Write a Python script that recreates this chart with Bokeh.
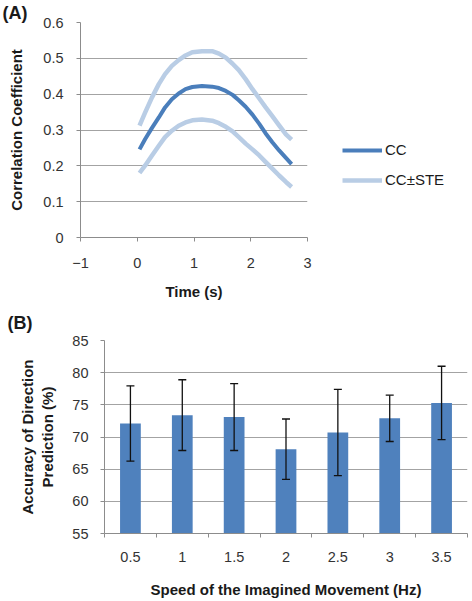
from bokeh.plotting import figure
from bokeh.models import (Range1d, FixedTicker, Legend, LegendItem, Whisker, TeeHead,
                          ColumnDataSource)
from bokeh.embed import file_html
from bokeh.resources import INLINE

# ---------------- data ----------------
# Panel A: correlation coefficient over time
time_s = [0.04, 0.14, 0.26, 0.38, 0.49, 0.61, 0.73, 0.85, 0.97, 1.14, 1.32, 1.44,
          1.56, 1.68, 1.79, 1.91, 2.03, 2.15, 2.26, 2.38, 2.50, 2.62, 2.72]
cc = [0.246, 0.275, 0.306, 0.335, 0.363, 0.386, 0.402, 0.414, 0.420, 0.423, 0.421, 0.417,
      0.409, 0.398, 0.383, 0.365, 0.343, 0.317, 0.291, 0.266, 0.243, 0.222, 0.205]
cc_plus_ste = [0.312, 0.349, 0.391, 0.428, 0.456, 0.479, 0.495, 0.508, 0.517, 0.520, 0.520, 0.513,
               0.502, 0.485, 0.467, 0.442, 0.414, 0.388, 0.364, 0.339, 0.313, 0.288, 0.273]
cc_minus_ste = [0.180, 0.201, 0.229, 0.256, 0.280, 0.298, 0.312, 0.321, 0.327, 0.329, 0.326, 0.319,
                0.309, 0.296, 0.280, 0.262, 0.246, 0.229, 0.211, 0.192, 0.173, 0.155, 0.141]
a_xticks = [-1, 0, 1, 2, 3]
a_yticks = [0, 0.1, 0.2, 0.3, 0.4, 0.5, 0.6]
a_ylabels = ["0", "0.1", "0.2", "0.3", "0.4", "0.5", "0.6"]

# Panel B: accuracy by speed
speeds = ["0.5", "1", "1.5", "2", "2.5", "3", "3.5"]
accuracy = [72.1, 73.4, 73.1, 68.1, 70.7, 72.9, 75.3]
ste = [5.85, 5.5, 5.2, 4.7, 6.7, 3.6, 5.7]
b_yticks = [55, 60, 65, 70, 75, 80, 85]

FONT = "Liberation Sans"
TICK_COLOR = "#333333"
GRID = "#a3a3a3"
AXIS = "#8c8c8c"
DARK_BLUE = "#4a7ebb"
LIGHT_BLUE = "#b9cde5"
BAR_BLUE = "#4f81bd"


def style_axis(ax):
    ax.axis_line_color = AXIS
    ax.major_tick_line_color = AXIS
    ax.minor_tick_line_color = AXIS
    ax.major_tick_in = 0
    ax.minor_tick_in = 0
    ax.major_label_text_font = FONT
    ax.major_label_text_font_size = "14.5px"
    ax.major_label_text_color = TICK_COLOR
    ax.axis_label_text_font = FONT
    ax.axis_label_text_font_size = "15px"
    ax.axis_label_text_font_style = "bold"
    ax.axis_label_text_color = "#1a1a1a"


def style_title(p, offset, standoff):
    p.title.align = "left"
    p.title.offset = offset
    p.title.standoff = standoff
    p.title.text_font = FONT
    p.title.text_font_size = "18px"
    p.title.text_font_style = "bold"
    p.title.text_color = "#1a1a1a"


# ---------------- Panel A ----------------
pA = figure(frame_width=227, frame_height=215, x_range=Range1d(-1, 3), y_range=Range1d(0, 0.6),
            title="(A)", output_backend="svg", toolbar_location=None,
            min_border_left=80, min_border_right=165, min_border_top=22, min_border_bottom=64)
style_title(pA, -78, 0)
pA.outline_line_color = None
pA.xgrid.visible = False
pA.ygrid.ticker = FixedTicker(ticks=a_yticks)
pA.ygrid.grid_line_color = GRID

src_a = ColumnDataSource(dict(t=time_s, cc=cc, up=cc_plus_ste, lo=cc_minus_ste))
r_up = pA.line("t", "up", source=src_a, line_color=LIGHT_BLUE, line_width=4.5, line_join="round")
r_lo = pA.line("t", "lo", source=src_a, line_color=LIGHT_BLUE, line_width=4.5, line_join="round")
r_cc = pA.line("t", "cc", source=src_a, line_color=DARK_BLUE, line_width=4, line_join="round")

xa = pA.xaxis[0]
xa.ticker = FixedTicker(ticks=a_xticks)
xa.axis_label = "Time (s)"
style_axis(xa)
xa.major_tick_out = 4
xa.major_label_standoff = 16
xa.axis_label_standoff = 12

ya = pA.yaxis[0]
ya.ticker = FixedTicker(ticks=a_yticks)
ya.major_label_overrides = dict(zip(a_yticks, a_ylabels))
ya.axis_label = "Correlation Coefficient"
style_axis(ya)
ya.major_tick_out = 4
ya.major_label_standoff = 13
ya.axis_label_standoff = 15

legend = Legend(items=[LegendItem(label="CC", renderers=[r_cc]),
                       LegendItem(label="CC\u00b1STE", renderers=[r_up])],
                location=(35, 49), orientation="vertical",
                glyph_width=40, glyph_height=16, label_height=16, spacing=13,
                label_standoff=3, padding=0, margin=0,
                border_line_color=None, background_fill_alpha=0,
                label_text_font=FONT, label_text_font_size="15px", label_text_color="#1a1a1a")
pA.add_layout(legend, "right")

# ---------------- Panel B ----------------
pB = figure(frame_width=363, frame_height=193, x_range=Range1d(0, len(speeds)), y_range=Range1d(55, 85),
            title="(B)", output_backend="svg", toolbar_location=None,
            min_border_left=104, min_border_right=5, min_border_top=38, min_border_bottom=66)
style_title(pB, -97, 16)
pB.outline_line_color = None
pB.xgrid.visible = False
pB.ygrid.ticker = FixedTicker(ticks=b_yticks)
pB.ygrid.grid_line_color = GRID

positions = [i + 0.5 for i in range(len(speeds))]
src_b = ColumnDataSource(dict(x=positions, acc=accuracy,
                              upper=[a + s for a, s in zip(accuracy, ste)],
                              lower=[a - s for a, s in zip(accuracy, ste)]))
pB.vbar(x="x", top="acc", bottom=55, width=0.4, source=src_b,
        fill_color=BAR_BLUE, line_color=None)
pB.add_layout(Whisker(base="x", upper="upper", lower="lower", source=src_b, level="overlay",
                      line_color="#111111", line_width=1.3,
                      upper_head=TeeHead(size=8, line_color="#111111", line_width=1.3),
                      lower_head=TeeHead(size=8, line_color="#111111", line_width=1.3)))

xb = pB.xaxis[0]
xb.ticker = FixedTicker(ticks=positions, minor_ticks=list(range(len(speeds) + 1)))
xb.major_label_overrides = dict(zip(positions, speeds))
xb.axis_label = "Speed of the Imagined Movement (Hz)"
style_axis(xb)
xb.major_tick_out = 0
xb.minor_tick_out = 4
xb.major_label_standoff = 14
xb.axis_label_standoff = 16

yb = pB.yaxis[0]
yb.ticker = FixedTicker(ticks=b_yticks)
yb.axis_label = "Accuracy of Direction\nPrediction (%)"
style_axis(yb)
yb.major_tick_out = 4
yb.major_label_standoff = 12
yb.axis_label_standoff = 13

open("out.html", "w").write(file_html((pA, pB), INLINE))
